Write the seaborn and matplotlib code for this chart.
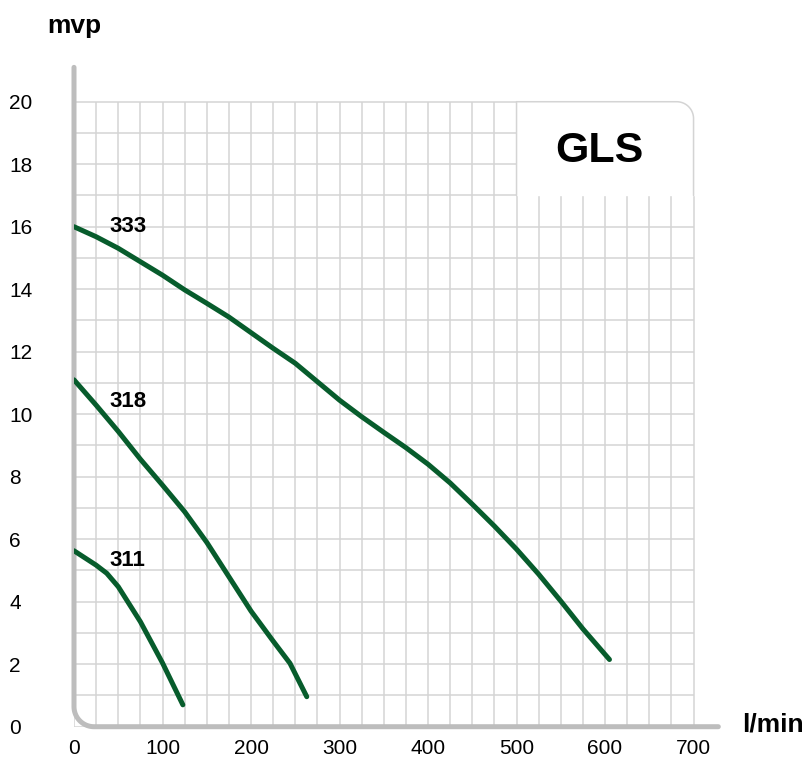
import numpy as np
import pandas as pd
import matplotlib
matplotlib.use('Agg')
import matplotlib.pyplot as plt
import seaborn as sns

# curve data (flow l/min, head mvp)
flow_333 = [0, 25, 50, 75, 100, 125, 150, 175, 200, 225, 250, 275, 300,
            325, 350, 375, 400, 425, 450, 475, 500, 525, 550, 575, 605]
head_333 = [16.0, 15.68, 15.31, 14.88, 14.45, 13.98, 13.55, 13.11, 12.61, 12.11, 11.63, 11.04, 10.45,
            9.92, 9.42, 8.93, 8.40, 7.80, 7.12, 6.42, 5.68, 4.88, 4.02, 3.13, 2.15]
flow_318 = [0, 25, 50, 75, 100, 125, 150, 175, 200, 225, 244, 263]
head_318 = [11.1, 10.29, 9.45, 8.56, 7.73, 6.88, 5.9, 4.8, 3.7, 2.74, 2.03, 0.96]
flow_311 = [0, 25, 37, 50, 75, 100, 123]
head_311 = [5.63, 5.17, 4.91, 4.48, 3.36, 2.04, 0.7]

models = ['333', '318', '311']
label_pos = {'333': (60.6, 15.83), '318': (60.6, 10.23), '311': (60, 5.14)}
x_ticks = list(range(0, 701, 100))
y_ticks = list(range(0, 21, 2))

df = pd.concat([
    pd.DataFrame({'flow': flow_333, 'head': head_333, 'model': '333'}),
    pd.DataFrame({'flow': flow_318, 'head': head_318, 'model': '318'}),
    pd.DataFrame({'flow': flow_311, 'head': head_311, 'model': '311'}),
])

sns.set_style('white')
plt.rcParams['font.family'] = ['Liberation Sans', 'DejaVu Sans']
plt.rcParams['text.color'] = 'black'

GREEN = '#075c2c'
GRID = '#d4d4d4'
SPINE = '#bdbdbd'

fig = plt.figure(figsize=(8.07, 7.58), dpi=100)
ax = fig.add_axes([0.0917, 0.04129, 0.8061, 0.8781])
ax.set_xlim(0, 735)
ax.set_ylim(0, 21.3)

# grid
ax.vlines(np.arange(0, 701, 25), 0, 20, color=GRID, lw=1.1, zorder=0.5)
ax.hlines(np.arange(0, 21, 1), 0, 700, color=GRID, lw=1.1, zorder=0.5)

# white GLS box with rounded top-right corner
ax.fill_between([500, 706], 17, 20.4, color='white', zorder=1, clip_on=False)
rx, ry = 19.0, 0.54
t = np.linspace(np.pi / 2, 0, 20)
bx = np.concatenate([[500, 500, 700 - rx], 700 - rx + rx * np.cos(t), [700, 700]])
by = np.concatenate([[17, 20, 20], 20 - ry + ry * np.sin(t), [20 - ry, 17]])
ax.plot(bx, by, color=GRID, lw=1.1, zorder=1.1, clip_on=False)

# gray axis with rounded bottom-left corner
rx, ry = 22.6, 0.64
t = np.linspace(np.pi, 1.5 * np.pi, 20)
sx = np.concatenate([[0, 0], rx + rx * np.cos(t), [728]])
sy = np.concatenate([[21.1, ry], ry + ry * np.sin(t), [0]])
ax.plot(sx, sy, color=SPINE, lw=3.6, solid_capstyle='round', zorder=2, clip_on=False)

sns.lineplot(data=df, x='flow', y='head', hue='model', palette=[GREEN] * 3,
             estimator=None, sort=False, legend=False, linewidth=3.6, ax=ax, zorder=3)
for line in ax.lines[-3:]:
    line.set_solid_capstyle('round')
    line.set_solid_joinstyle('round')

for m in models:
    x, y = label_pos[m]
    ax.text(x, y, m, fontsize=16, fontweight='bold', ha='center', va='baseline', zorder=4)

ax.text(594, 18.07, 'GLS', fontsize=31, fontweight='bold', ha='center', va='baseline', zorder=4)

ax.set_xticks(x_ticks)
ax.set_yticks(y_ticks)
ax.set_xticklabels([str(v) for v in x_ticks])
ax.set_yticklabels([str(v) for v in y_ticks])
ax.tick_params(axis='both', length=0, labelsize=15, colors='black')
ax.tick_params(axis='x', pad=9)
ax.tick_params(axis='y', pad=46.8)
for lab in ax.get_yticklabels():
    lab.set_horizontalalignment('left')
ax.set_xlabel('')
ax.set_ylabel('')
sns.despine(ax=ax, left=True, bottom=True)

fig.text(74 / 807, 1 - 33 / 758, 'mvp', fontsize=19, fontweight='bold', ha='center', va='baseline')
fig.text(773 / 807, 1 - 731.7 / 758, 'l/min', fontsize=19, fontweight='bold', ha='center', va='baseline')

fig.savefig('out.png', dpi=100, facecolor='white')
